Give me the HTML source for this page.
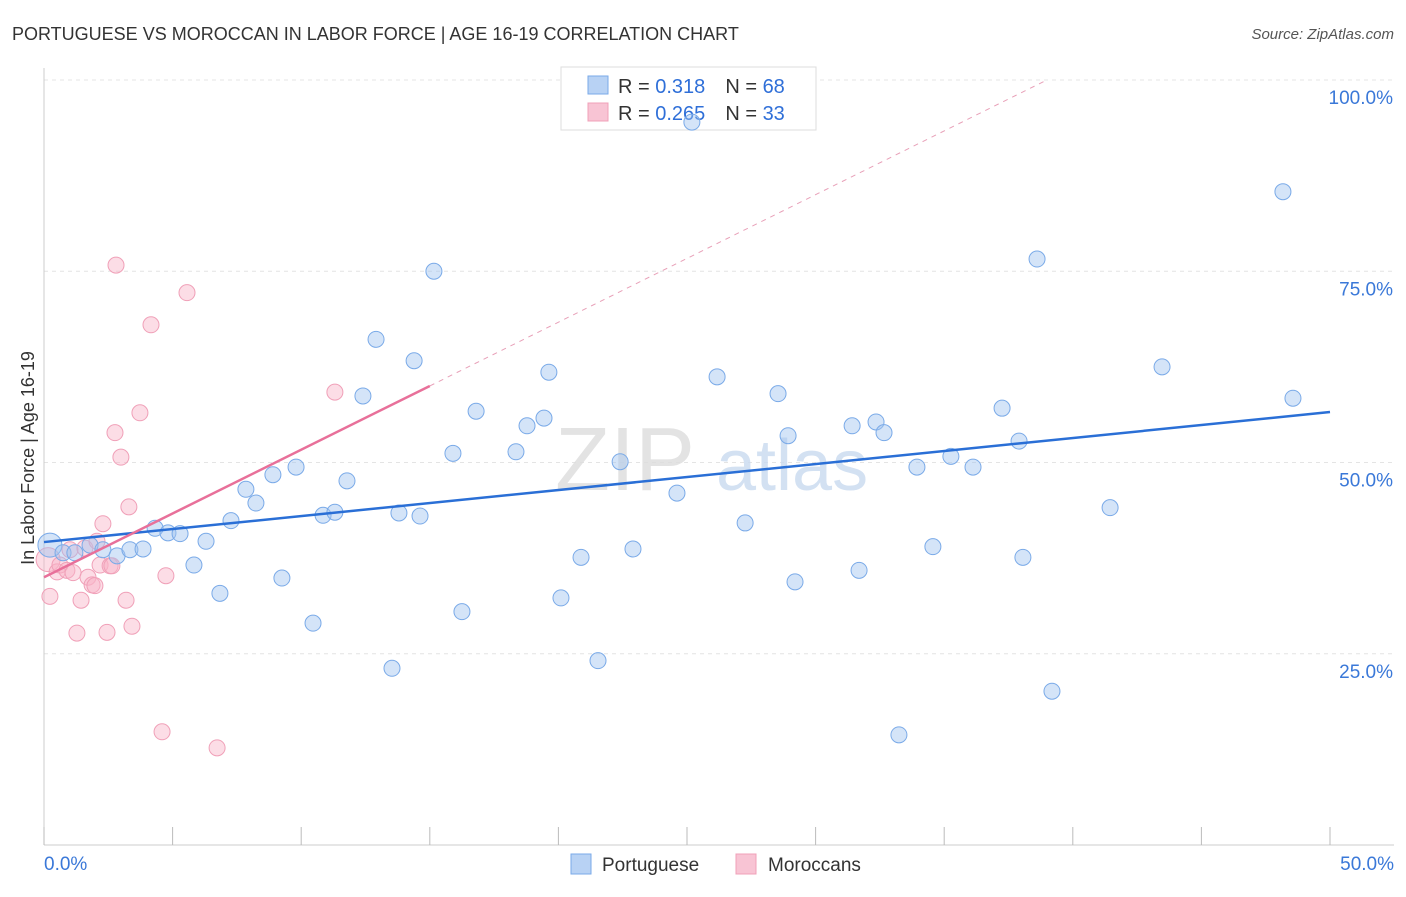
<!DOCTYPE html>
<html><head><meta charset="utf-8"><style>
body{margin:0;background:#fff;font-family:"Liberation Sans",sans-serif}
svg text{font-family:"Liberation Sans",sans-serif}
</style></head><body>
<svg id="chart" width="1406" height="892" viewBox="0 0 1406 892" xmlns="http://www.w3.org/2000/svg">
<text x="12" y="40" font-size="18" fill="#333">PORTUGUESE VS MOROCCAN IN LABOR FORCE | AGE 16-19 CORRELATION CHART</text>
<text x="1394" y="39" font-size="15" fill="#555" font-style="italic" text-anchor="end">Source: ZipAtlas.com</text>
<g id="grid"></g>
<g id="axes"></g>
<text x="555" y="490" font-size="90" fill="#ddd" font-family="Liberation Serif" opacity="0.8">ZIP</text>
<text x="716" y="490" font-size="72" fill="#c9daf0" opacity="0.8">atlas</text>
<g>
<rect x="561" y="67" width="255" height="63" fill="#fff" stroke="#ddd"/>
<rect x="588" y="76" width="20" height="18" fill="#b8d2f4" stroke="#7aaae8"/>
<rect x="588" y="103" width="20" height="18" fill="#f8c4d4" stroke="#f0a0b8"/>
<text x="618" y="93" font-size="20" fill="#333">R = <tspan fill="#2f6fd8">0.318</tspan><tspan dx="20">N = </tspan><tspan fill="#2f6fd8">68</tspan></text>
<text x="618" y="120" font-size="20" fill="#333">R = <tspan fill="#2f6fd8">0.265</tspan><tspan dx="20">N = </tspan><tspan fill="#2f6fd8">33</tspan></text>
</g>
<g id="marks"></g>
<text transform="translate(34,458) rotate(-90)" font-size="18" fill="#333" text-anchor="middle">In Labor Force | Age 16-19</text>
<g>
<rect x="571" y="854" width="20" height="20" fill="#b8d2f4" stroke="#7aaae8"/>
<text x="602" y="871" font-size="19" fill="#333">Portuguese</text>
<rect x="736" y="854" width="20" height="20" fill="#f8c4d4" stroke="#f0a0b8"/>
<text x="768" y="871" font-size="19" fill="#333">Moroccans</text>
</g>
</svg>
<script>
const blueX=[0.23,0.74,1.2,1.79,2.29,2.84,3.34,3.85,4.32,4.82,5.29,5.83,6.30,6.84,7.27,7.85,8.24,8.90,9.25,9.80,10.46,10.85,11.31,11.78,12.40,12.91,13.53,13.80,14.39,14.62,15.16,15.90,16.25,16.80,18.35,18.78,19.44,19.63,20.10,20.88,21.54,22.40,22.90,24.61,25.19,26.17,27.26,28.54,28.93,29.20,31.42,31.69,32.35,32.66,33.24,33.94,34.56,35.26,36.12,37.25,37.91,38.06,38.61,39.19,41.45,43.47,48.17,48.56];
const blueY=[39.2,38.2,38.2,39.2,38.6,37.8,38.6,38.7,41.4,40.8,40.7,36.6,39.7,32.9,42.4,46.5,44.7,48.4,34.9,49.4,29.0,43.1,43.5,47.6,58.7,66.1,23.1,43.4,63.3,43.0,75.0,51.2,30.5,56.7,51.4,54.8,55.8,61.8,32.3,37.6,24.1,50.1,38.7,46.0,94.5,61.2,42.1,59.0,53.5,34.4,54.8,35.9,55.3,53.9,14.4,49.4,39.0,50.8,49.4,57.1,52.8,37.6,76.6,20.1,44.1,62.5,85.4,58.4];
const pinkX=[0.16,0.23,0.51,0.62,0.89,1.01,1.13,1.28,1.44,1.59,1.71,1.87,1.98,2.06,2.18,2.29,2.45,2.57,2.64,2.76,2.80,2.99,3.19,3.30,3.42,3.73,4.16,4.59,4.74,5.56,6.73,11.31];
const pinkY=[37.3,32.5,35.7,36.6,35.9,38.6,35.6,27.7,32.0,38.8,35.0,34.0,33.9,39.7,36.6,42.0,27.8,36.5,36.5,53.9,75.8,50.7,32.0,44.2,28.6,56.5,68.0,14.8,35.2,72.2,12.7,59.2];
const blueTrend=[39.6,56.6];
const pinkTrend=[35.0,1.667];
const yTicks=[25,50,75,100];
const xTickLabels=["0.0%","50.0%"];
const X0=44,X1=1330,Ytop=80,Ybot=845;
const sx=v=>X0+(v/50)*(X1-X0);
const sy=v=>Ybot-(v/100)*(Ybot-Ytop);
const NS="http://www.w3.org/2000/svg";
function mk(tag,attrs,parent){const e=document.createElementNS(NS,tag);for(const k in attrs)e.setAttribute(k,attrs[k]);parent.appendChild(e);return e;}
const grid=document.getElementById('grid'),axes=document.getElementById('axes'),marks=document.getElementById('marks');
yTicks.forEach(t=>{
 const l=mk('line',{x1:X0,x2:1394,y1:sy(t),y2:sy(t),stroke:'#e4e4e4','stroke-dasharray':'4,4'},grid);
 
 
 const tx=mk('text',{x:1393,y:sy(t)+24,'font-size':19,fill:'#3a78d8','text-anchor':'end'},axes);
 tx.textContent=t.toFixed(1)+'%';
 
 
});
mk('line',{x1:X0,x2:X0,y1:68,y2:Ybot,stroke:'#ccc'},axes);
mk('line',{x1:X0,x2:1394,y1:Ybot,y2:Ybot,stroke:'#ccc'},axes);
for(let i=0;i<=10;i++){const t=mk('line',{x1:sx(i*5),x2:sx(i*5),y1:Ybot,y2:Ybot-18,stroke:'#bbb'},axes);}
const xl0=mk('text',{x:44,y:870,'font-size':19,fill:'#3a78d8'},axes);xl0.textContent=xTickLabels[0];


const xl1=mk('text',{x:1394,y:870,'font-size':19,fill:'#3a78d8','text-anchor':'end'},axes);xl1.textContent=xTickLabels[1];


pinkX.forEach((x,i)=>{const c=mk('circle',{cx:sx(x),cy:sy(pinkY[i]),r:i==0?12:8,fill:'rgba(248,180,200,0.45)',stroke:'#f0a0b8','stroke-width':1},marks);
 
 });
blueX.forEach((x,i)=>{const c=mk('circle',{cx:sx(x),cy:sy(blueY[i]),r:i==0?12:8,fill:'rgba(160,195,240,0.45)',stroke:'#7aaae8','stroke-width':1},marks);
 
 });
const bt=mk('line',{x1:sx(0),y1:sy(blueTrend[0]),x2:sx(50),y2:sy(blueTrend[1]),stroke:'#2a6fd6','stroke-width':2.5},marks);


const xEnd=(100-pinkTrend[0])/pinkTrend[1];
const pd=mk('line',{x1:sx(15),y1:sy(pinkTrend[0]+15*pinkTrend[1]),x2:sx(xEnd),y2:sy(100),stroke:'#e8a0b8','stroke-width':1,'stroke-dasharray':'5,5'},marks);


const pt=mk('line',{x1:sx(0),y1:sy(pinkTrend[0]),x2:sx(15),y2:sy(pinkTrend[0]+15*pinkTrend[1]),stroke:'#e8709a','stroke-width':2.5},marks);


</script>
</body></html>
